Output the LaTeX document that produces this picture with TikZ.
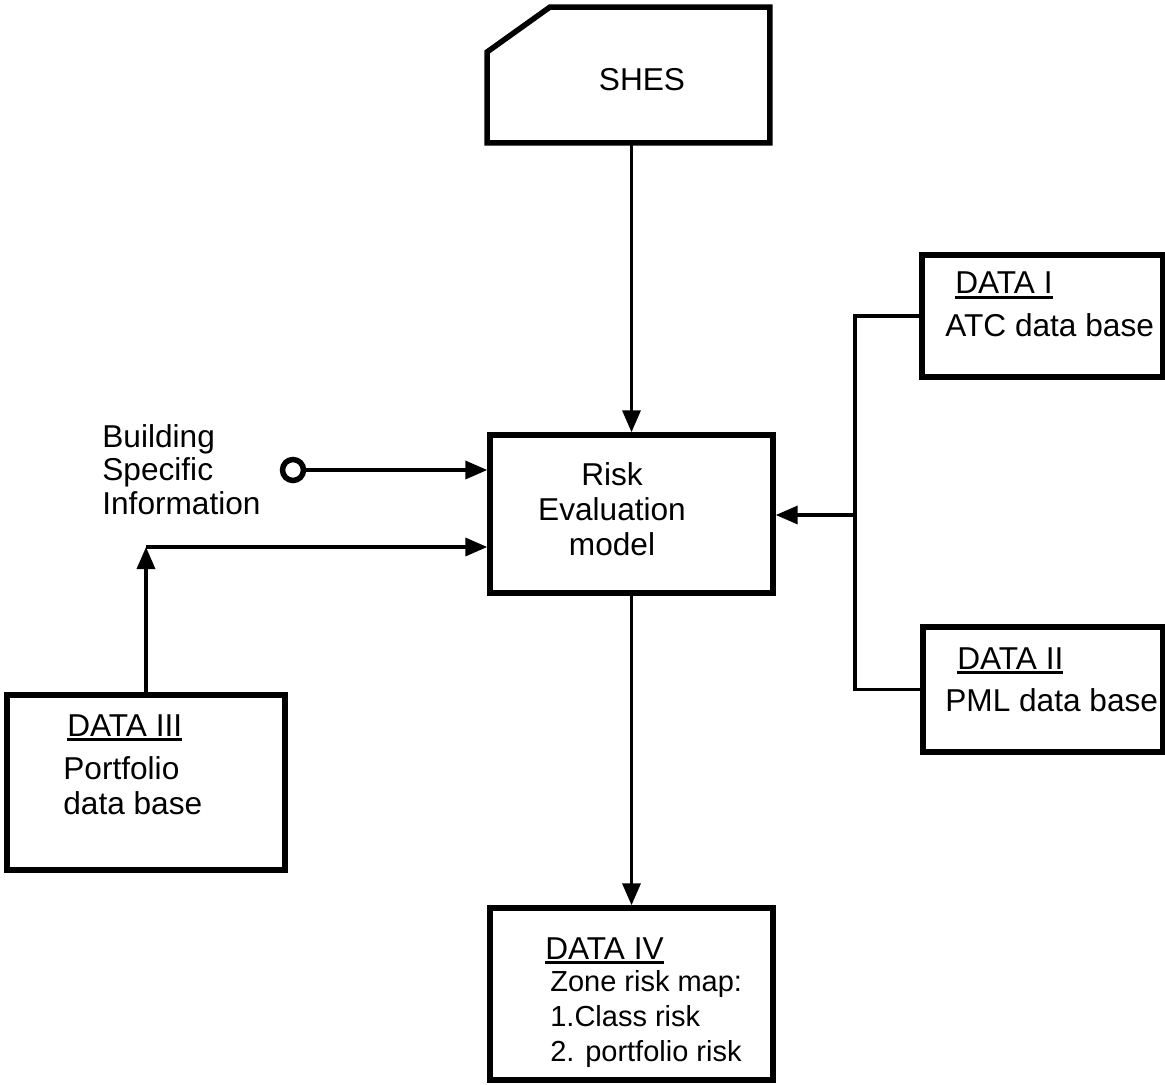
\documentclass[tikz,border=0pt]{standalone}
\usepackage{fontspec}
\setmainfont{Liberation Sans}
\usetikzlibrary{arrows.meta}

\newcommand{\datahead}[1]{\setbox0\hbox{#1}\rlap{\rule[-2.8pt]{\wd0}{1.5pt}}\box0}

\tikzset{
  every node/.style={font=\fontsize{18}{20}\selectfont, inner sep=0pt},
  box/.style={draw, line width=0.11cm},
  txt/.style={align=left, anchor=north west},
  link/.style={line width=0.07cm},
  arr/.style={link, -{Triangle[length=0.44cm,width=0.36cm]}}
}

\begin{document}
\begin{tikzpicture}[x=0.02cm, y=-0.02cm]
\useasboundingbox (0,0) rectangle (1165,1084);

\begin{scope}[every node/.append style={box}]
    \node (risk) at (631.5,514) [minimum width=5.66cm, minimum height=3.16cm] {};
    \node (data1) at (1042.5,316) [minimum width=4.82cm, minimum height=2.44cm] {};
    \node (data2) at (1043,689.5) [minimum width=4.8cm, minimum height=2.5cm] {};
    \node (data3) at (146,782.5) [minimum width=5.56cm, minimum height=3.5cm] {};
    \node (data4) at (631.5,994) [minimum width=5.66cm, minimum height=3.44cm] {};
    \node (dot) at (293,470) [circle, minimum size=0.42cm] {};
\end{scope}

% card with the clipped corner
\node (shes) at (628.5,75) [minimum width=5.66cm, minimum height=2.72cm, outer sep=0pt] {};
\draw[box] ([yshift=-0.9cm]shes.north west) -- ([xshift=1.26cm]shes.north west)
    -- (shes.north east) -- (shes.south east) -- (shes.south west) -- cycle;

\node (sheslbl) at (642,91) [anchor=base] {SHES};
\node (risklbl) at (612,462) [align=center, anchor=north] {Risk\\Evaluation\\model};
\node (bldglbl) at (102,424) [txt, font=\fontsize{18}{19}\selectfont] {Building\\Specific\\Information};

\node (d1head) at (955,294) [anchor=base west] {\datahead{DATA I}};
\node (d1body) at (945,336) [anchor=base west] {ATC data base};
\node (d2head) at (957,669) [anchor=base west] {\datahead{DATA II}};
\node (d2body) at (945,711) [anchor=base west] {PML data base};
\node (d3head) at (67,736) [anchor=base west] {\datahead{DATA III}};
\node (d3body) at (63,756) [txt] {Portfolio\\data base};
\node (d4head) at (545,959) [anchor=base west] {\datahead{DATA IV}};
\node (d4body) at (550,970) [txt, font=\fontsize{16.5}{20}\selectfont] {Zone risk map:\\1.Class risk\\2. portfolio risk};

\coordinate (merge) at (data3.north |- 0,547);
\coordinate (bus) at (855,515);

\draw[arr] (risk.north |- shes.south) -- (risk.north);
\draw[arr] (risk) -- (data4);
\draw[arr] (dot) -- (dot -| risk.west);
\draw[arr] (data3) -- (merge);
\draw[arr] (merge) -- (merge -| risk.west);
\draw[link] (data1.west) -| (bus) |- (data2.west);
\draw[arr] (bus) -- (bus -| risk.east);

\end{tikzpicture}
\end{document}
